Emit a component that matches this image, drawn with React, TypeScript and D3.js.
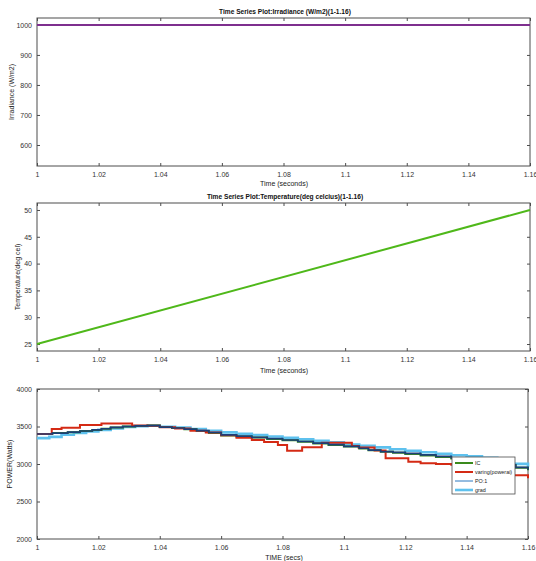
import React, { useEffect, useRef } from "react";
import * as d3 from "d3";

// x ticks shared by all three panels
const timeTicks = [1, 1.02, 1.04, 1.06, 1.08, 1.1, 1.12, 1.14, 1.16];

// panel 1 - irradiance
const irrTime = [1, 1.16];
const irrValue = [1000, 1000];
const irrTicks = [600, 700, 800, 900, 1000];

// panel 2 - temperature
const tempTime = [1, 1.16];
const tempValue = [25, 50];
const tempTicks = [25, 30, 35, 40, 45, 50];

// panel 3 - power (step data)
const powTicks = [2000, 2500, 3000, 3500, 4000];

const icTime = [1, 1.005, 1.01, 1.014, 1.018, 1.021, 1.024, 1.028, 1.032, 1.036, 1.04, 1.044, 1.048, 1.052, 1.056, 1.06, 1.065, 1.07, 1.075, 1.08, 1.085, 1.09, 1.095, 1.1, 1.105, 1.108, 1.112, 1.116, 1.12, 1.125, 1.13, 1.135, 1.14, 1.145, 1.15, 1.153, 1.156, 1.16];
const icValue = [3400, 3412, 3425, 3440, 3455, 3470, 3488, 3500, 3508, 3512, 3492, 3480, 3462, 3440, 3415, 3380, 3368, 3352, 3335, 3318, 3298, 3275, 3255, 3232, 3208, 3182, 3162, 3150, 3132, 3112, 3092, 3072, 3058, 3035, 3005, 2985, 2950, 2918];

const poTime = [1, 1.005, 1.01, 1.014, 1.018, 1.021, 1.024, 1.028, 1.032, 1.036, 1.04, 1.044, 1.048, 1.052, 1.056, 1.06, 1.065, 1.07, 1.075, 1.08, 1.085, 1.09, 1.095, 1.1, 1.105, 1.108, 1.112, 1.116, 1.12, 1.125, 1.13, 1.135, 1.14, 1.145, 1.15, 1.153, 1.156, 1.16];
const poValue = [3400, 3412, 3425, 3440, 3455, 3470, 3488, 3500, 3508, 3512, 3492, 3480, 3465, 3445, 3420, 3388, 3372, 3355, 3338, 3320, 3300, 3278, 3258, 3235, 3210, 3185, 3165, 3155, 3142, 3122, 3102, 3082, 3066, 3042, 3012, 2990, 2955, 2922];

const varTime = [1, 1.0048, 1.008, 1.014, 1.021, 1.031, 1.036, 1.04, 1.045, 1.05, 1.055, 1.06, 1.065, 1.07, 1.074, 1.0785, 1.0815, 1.0864, 1.0928, 1.1026, 1.1048, 1.11, 1.1136, 1.121, 1.125, 1.13, 1.135, 1.14, 1.145, 1.15, 1.155, 1.16];
const varValue = [3400, 3467, 3482, 3520, 3540, 3515, 3510, 3490, 3475, 3445, 3420, 3385, 3350, 3320, 3295, 3253, 3177, 3222, 3284, 3240, 3220, 3180, 3076, 3031, 3010, 3000, 2990, 2975, 2940, 2890, 2850, 2810];

const gradTime = [1, 1.004, 1.008, 1.012, 1.016, 1.02, 1.024, 1.028, 1.032, 1.036, 1.04, 1.045, 1.05, 1.055, 1.06, 1.065, 1.07, 1.075, 1.08, 1.085, 1.09, 1.095, 1.1, 1.105, 1.11, 1.115, 1.12, 1.125, 1.13, 1.135, 1.14, 1.145, 1.15, 1.155, 1.16];
const gradValue = [3345, 3362, 3390, 3415, 3435, 3455, 3475, 3495, 3505, 3512, 3497, 3486, 3466, 3442, 3422, 3402, 3386, 3366, 3348, 3328, 3308, 3288, 3260, 3242, 3222, 3197, 3177, 3157, 3137, 3117, 3102, 3082, 3052, 3002, 2962];

const legendNames = ["IC", "varing(powerai)", "PO:1", "grad"];

export default function App() {
  const ref = useRef<SVGSVGElement>(null);

  useEffect(() => {
    const svg = d3.select(ref.current);
    svg.selectAll("*").remove();
    const font = "Liberation Sans, Arial, sans-serif";
    const left = 37;
    const fmt = (d: number) => String(+d.toFixed(2));

    function panel(top: number, bottom: number, right: number, ydom: number[], yticks: number[], ylabel: string, xlabel: string, title: string | null, labY: number, yLabX: number) {
      const x = d3.scaleLinear().domain([1, 1.16]).range([left, right]);
      const y = d3.scaleLinear().domain(ydom).range([bottom, top]);
      const g = svg.append("g");

      // box
      g.append("rect").attr("x", left).attr("y", top).attr("width", right - left).attr("height", bottom - top)
        .attr("fill", "white").attr("stroke", "#4d4d4d").attr("stroke-width", 1);

      const bx = g.append("g").attr("transform", `translate(0,${bottom})`)
        .call(d3.axisBottom(x).tickValues(timeTicks).tickSizeInner(-3).tickSizeOuter(0).tickPadding(6).tickFormat(fmt as any));
      const tx = g.append("g").attr("transform", `translate(0,${top})`)
        .call(d3.axisTop(x).tickValues(timeTicks).tickSizeInner(-3).tickSizeOuter(0).tickFormat(() => ""));
      const ly = g.append("g").attr("transform", `translate(${left},0)`)
        .call(d3.axisLeft(y).tickValues(yticks).tickSizeInner(-3).tickSizeOuter(0).tickPadding(5).tickFormat(d3.format("d") as any));
      const ry = g.append("g").attr("transform", `translate(${right},0)`)
        .call(d3.axisRight(y).tickValues(yticks).tickSizeInner(-3).tickSizeOuter(0).tickFormat(() => ""));
      [bx, tx, ly, ry].forEach(a => {
        a.select(".domain").remove();
        a.selectAll("line").attr("stroke", "#4d4d4d");
        a.selectAll("text").attr("font-family", font).attr("font-size", 7).attr("fill", "#333");
      });

      g.append("text").attr("x", 284).attr("y", labY).attr("text-anchor", "middle")
        .attr("font-family", font).attr("font-size", 7).attr("fill", "#222").text(xlabel);
      const cy = (top + bottom) / 2;
      g.append("text").attr("transform", `translate(${yLabX},${cy}) rotate(-90)`).attr("text-anchor", "middle")
        .attr("font-family", font).attr("font-size", 7).attr("fill", "#222").text(ylabel);
      if (title) {
        g.append("text").attr("x", 285).attr("y", top - 4).attr("text-anchor", "middle")
          .attr("font-family", font).attr("font-size", 6.6).attr("font-weight", "bold").attr("fill", "#111").text(title);
      }
      return { g, x, y };
    }

    const p1 = panel(18, 166, 530, [530, 1023], irrTicks, "Irradiance (W/m2)", "Time (seconds)",
      "Time Series Plot:Irradiance (W/m2)(1-1.16)", 186, 14);
    p1.g.append("path")
      .attr("d", d3.line<number>().x((d, i) => p1.x(irrTime[i])).y(d => p1.y(d))(irrValue) as string)
      .attr("fill", "none").attr("stroke", "#7e2f8e").attr("stroke-width", 2);

    const p2 = panel(203, 351, 530, [23.7, 51.3], tempTicks, "Temperature(deg cel)", "Time (seconds)",
      "Time Series Plot:Temperature(deg celcius)(1-1.16)", 373, 20);
    p2.g.append("path")
      .attr("d", d3.line<number>().x((d, i) => p2.x(tempTime[i])).y(d => p2.y(d))(tempValue) as string)
      .attr("fill", "none").attr("stroke", "#4fb81a").attr("stroke-width", 2);

    const p3 = panel(389, 539, 528, [2000, 4000], powTicks, "POWER(Watts)", "TIME (secs)", null, 560, 12);
    const series = [
      { t: gradTime, v: gradValue, color: "#5ec1ee", w: 2.6 },
      { t: icTime, v: icValue, color: "#3a8a1c", w: 2 },
      { t: varTime, v: varValue, color: "#d42a14", w: 2 },
      { t: poTime, v: poValue, color: "#1b3f78", w: 1.6 },
    ];
    series.forEach(s => {
      p3.g.append("path")
        .attr("d", d3.line<number>().curve(d3.curveStepAfter).x((d, i) => p3.x(s.t[i])).y(d => p3.y(d))(s.v) as string)
        .attr("fill", "none").attr("stroke", s.color).attr("stroke-width", s.w);
    });

    // legend
    const lg = p3.g.append("g");
    lg.append("rect").attr("x", 452).attr("y", 457).attr("width", 63).attr("height", 37)
      .attr("fill", "white").attr("stroke", "#4d4d4d").attr("stroke-width", 0.8);
    const legColors = ["#3a8a1c", "#d42a14", "#2a78c0", "#5ec1ee"];
    const legWidths = [2, 2, 1, 2.6];
    legendNames.forEach((n, i) => {
      const yy = 463 + i * 9;
      lg.append("line").attr("x1", 455).attr("x2", 473).attr("y1", yy).attr("y2", yy)
        .attr("stroke", legColors[i]).attr("stroke-width", legWidths[i]);
      lg.append("text").attr("x", 475).attr("y", yy + 2).attr("font-family", font).attr("font-size", 5.4)
        .attr("fill", "#222").text(n);
    });
  }, []);

  return (
    <div style={{ position: "absolute", left: 0, top: 0 }}>
      <svg ref={ref} width={536} height={561} style={{ display: "block", background: "white" }} />
    </div>
  );
}
